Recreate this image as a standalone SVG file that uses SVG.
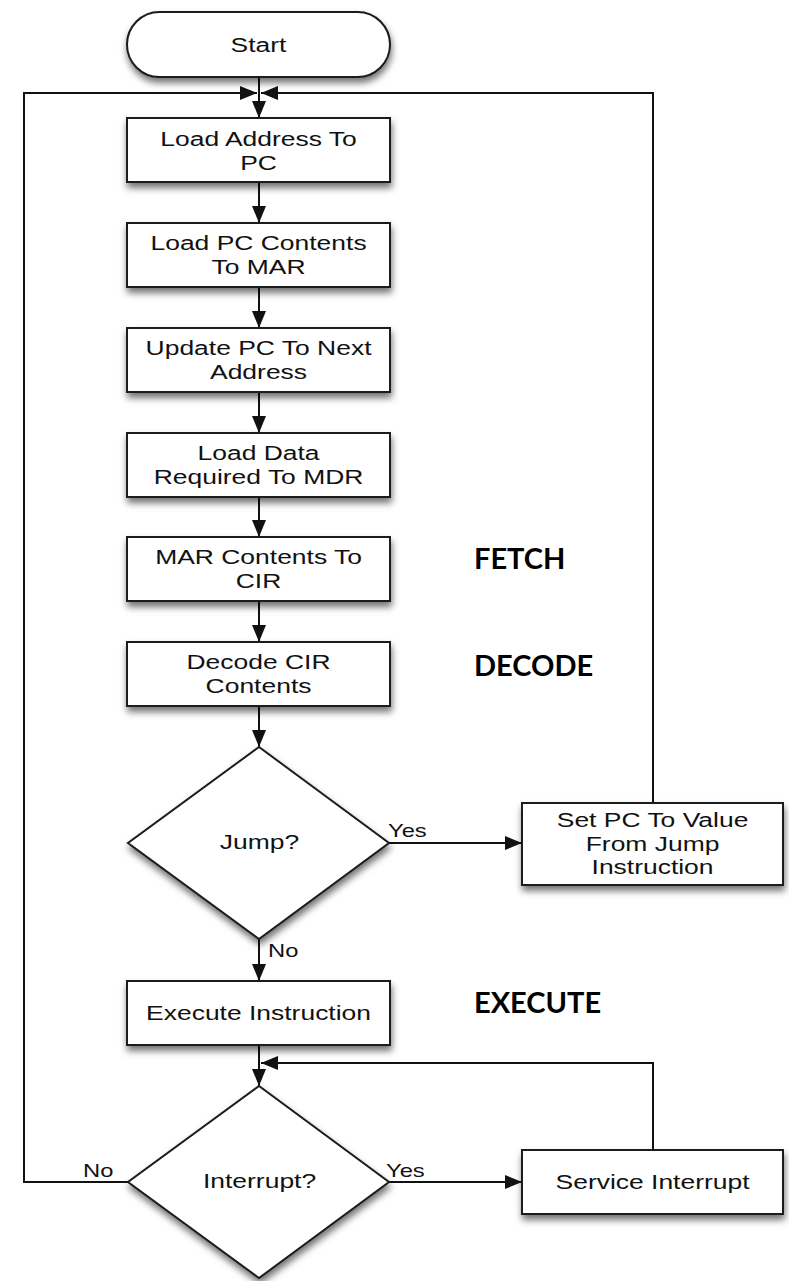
<svg xmlns="http://www.w3.org/2000/svg" width="789" height="1281" viewBox="0 0 789 1281">
  <style>
    .shape { fill: #ffffff; stroke: #1a1a1a; stroke-width: 2; filter: url(#shadow); }
    .edge { fill: none; stroke: #111111; stroke-width: 2; marker-end: url(#arrow); }
    .t { font-family: "Liberation Sans", Arial, Helvetica, sans-serif; font-size: 21px; fill: #111111; text-anchor: middle; }
    .lbl { font-family: "Liberation Sans", Arial, Helvetica, sans-serif; font-size: 19px; fill: #111111; }
    .phase { font-family: Lato, "Open Sans", sans-serif; font-weight: bold; font-size: 29px; fill: #000000; }
  </style>
  <defs>
    <filter id="shadow" x="-20%" y="-20%" width="140%" height="150%">
      <feDropShadow dx="1" dy="5" stdDeviation="3.5" flood-color="#000000" flood-opacity="0.55"/>
    </filter>
    <marker id="arrow" markerUnits="userSpaceOnUse" markerWidth="17" markerHeight="14" refX="17" refY="7" orient="auto">
      <path d="M0,0 L17,7 L0,14 z" fill="#111111"/>
    </marker>
  </defs>

  <!-- connectors -->
  <g id="connectors">
    <path class="edge" d="M259,77 V118"/>
    <path class="edge" d="M128,1182 H24 V93 H257"/>
    <path class="edge" d="M653,803 V93 H261"/>
    <path class="edge" d="M259,182 V223"/>
    <path class="edge" d="M259,287 V328"/>
    <path class="edge" d="M259,392 V433"/>
    <path class="edge" d="M259,497 V537"/>
    <path class="edge" d="M259,601 V642"/>
    <path class="edge" d="M259,706 V747"/>
    <path class="edge" d="M389,843 H522"/>
    <path class="edge" d="M259,939 V981"/>
    <path class="edge" d="M259,1045 V1086"/>
    <path class="edge" d="M653,1150 V1063 H261"/>
    <path class="edge" d="M389,1182 H522"/>
    <text class="lbl" transform="scale(1.25 1)" x="310.4" y="837">Yes</text>
    <text class="lbl" transform="scale(1.25 1)" x="214.4" y="957">No</text>
    <text class="lbl" transform="scale(1.25 1)" x="66.4" y="1177">No</text>
    <text class="lbl" transform="scale(1.25 1)" x="308.8" y="1177">Yes</text>
  </g>

  <g id="start">
    <rect class="shape" x="127" y="12" width="263" height="65" rx="32.5" ry="32.5"/>
    <text class="t" transform="scale(1.26 1)" x="205.2" y="52">Start</text>
  </g>

  <g id="load-address">
    <rect class="shape" x="127" y="118" width="263" height="64"/>
    <text class="t" transform="scale(1.26 1)" x="205.2" y="146">Load Address To</text>
    <text class="t" transform="scale(1.26 1)" x="205.2" y="170">PC</text>
  </g>

  <g id="load-pc-mar">
    <rect class="shape" x="127" y="223" width="263" height="64"/>
    <text class="t" transform="scale(1.26 1)" x="205.2" y="250">Load PC Contents</text>
    <text class="t" transform="scale(1.26 1)" x="205.2" y="274">To MAR</text>
  </g>

  <g id="update-pc">
    <rect class="shape" x="127" y="328" width="263" height="64"/>
    <text class="t" transform="scale(1.26 1)" x="205.2" y="355">Update PC To Next</text>
    <text class="t" transform="scale(1.26 1)" x="205.2" y="379">Address</text>
  </g>

  <g id="load-data">
    <rect class="shape" x="127" y="433" width="263" height="64"/>
    <text class="t" transform="scale(1.26 1)" x="205.2" y="460">Load Data</text>
    <text class="t" transform="scale(1.26 1)" x="205.2" y="484">Required To MDR</text>
  </g>

  <g id="mar-cir">
    <rect class="shape" x="127" y="537" width="263" height="64"/>
    <text class="t" transform="scale(1.26 1)" x="205.2" y="564">MAR Contents To</text>
    <text class="t" transform="scale(1.26 1)" x="205.2" y="588">CIR</text>
  </g>

  <g id="decode">
    <rect class="shape" x="127" y="642" width="263" height="64"/>
    <text class="t" transform="scale(1.26 1)" x="205.2" y="669">Decode CIR</text>
    <text class="t" transform="scale(1.26 1)" x="205.2" y="693">Contents</text>
  </g>

  <g id="jump">
    <polygon class="shape" points="259,747 389,843 259,939 128,843"/>
    <text class="t" transform="scale(1.26 1)" x="206" y="849">Jump?</text>
  </g>

  <g id="set-pc">
    <rect class="shape" x="522" y="803" width="261" height="82"/>
    <text class="t" transform="scale(1.26 1)" x="517.9" y="827">Set PC To Value</text>
    <text class="t" transform="scale(1.26 1)" x="517.9" y="851">From Jump</text>
    <text class="t" transform="scale(1.26 1)" x="517.9" y="874">Instruction</text>
  </g>

  <g id="execute">
    <rect class="shape" x="127" y="981" width="263" height="64"/>
    <text class="t" transform="scale(1.26 1)" x="205.2" y="1020">Execute Instruction</text>
  </g>

  <g id="interrupt">
    <polygon class="shape" points="259,1086 389,1182 259,1278 128,1182"/>
    <text class="t" transform="scale(1.26 1)" x="206" y="1188">Interrupt?</text>
  </g>

  <g id="service">
    <rect class="shape" x="522" y="1150" width="261" height="64"/>
    <text class="t" transform="scale(1.26 1)" x="517.9" y="1189">Service Interrupt</text>
  </g>

  <!-- phase captions -->
  <g id="phases">
    <text class="phase" x="474" y="569">FETCH</text>
    <text class="phase" x="474" y="676">DECODE</text>
    <text class="phase" x="474" y="1013">EXECUTE</text>
  </g>
</svg>
